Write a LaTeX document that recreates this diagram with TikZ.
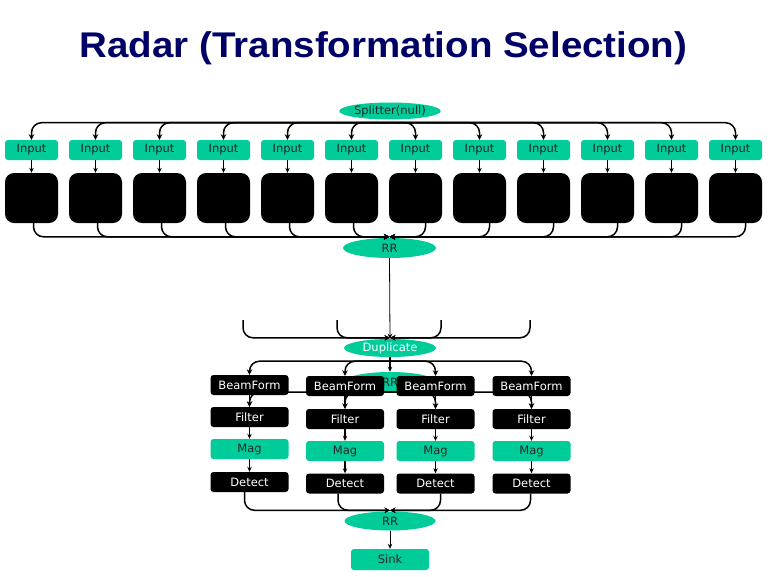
\documentclass[tikz,border=0pt]{standalone}
\usepackage{fontspec}
\setmainfont{DejaVu Sans}
\newfontfamily\titlefont{Liberation Sans}
\usetikzlibrary{arrows.meta,shapes.geometric,calc}
\definecolor{tealfill}{RGB}{0,204,153}
\definecolor{navytitle}{RGB}{0,0,102}
\pgfdeclarelayer{background}
\pgfsetlayers{background,main}
\begin{document}
\begin{tikzpicture}[x=1pt,y=-1pt,
  lbl/.style={font=\fontsize{11.5}{13}\selectfont, inner sep=0pt},
  tbox/.style={lbl, rectangle, rounded corners=3pt, fill=tealfill, minimum width=53pt, minimum height=20pt, text=black!85},
  bbox/.style={lbl, rectangle, rounded corners=3pt, fill=black, minimum width=78pt, minimum height=20pt, text=white},
  mbox/.style={tbox, minimum width=78pt},
  blk/.style={rectangle, rounded corners=9pt, fill=black, minimum width=53pt, minimum height=50pt, inner sep=0pt},
  oval/.style={lbl, ellipse, fill=tealfill, minimum width=92pt, minimum height=19pt, text=black!85},
  arr/.style={-{Stealth[length=5.5pt,width=5.5pt]}, line width=1.5pt, rounded corners=10pt},
  thinarr/.style={-{Stealth[length=5pt,width=4.5pt]}, line width=0.8pt}
]
\useasboundingbox (0,0) rectangle (768,576);

% title
\node[anchor=base, inner sep=0pt, text=navytitle, font=\titlefont\bfseries\fontsize{35}{40}\selectfont] (title) at (383.5,57)
  {\scalebox{1.1}[1.02]{Radar (Transformation Selection)}};

% splitter and inputs
\node[oval, minimum width=90pt, minimum height=17pt] (spl) at (390,111) {Splitter(null)};
\foreach \i in {0,...,11}{
  \pgfmathsetmacro{\xx}{31.5+64*\i}
  \node[tbox] (in\i) at (\xx,150) {Input};
  \node[blk] (bk\i) at (\xx,198) {};
  \draw[thinarr, line width=1.2pt] (in\i.south) -- (bk\i.north);
  \draw[arr] ([yshift=-3pt]spl.south) -| (in\i.north);
}

% first RR
\node[oval, minimum width=93pt, minimum height=20pt] (rr1) at (389.5,248) {RR};
\foreach \i in {0,...,5}{
  \draw[arr] ([xshift=2pt]bk\i.south) |- ([yshift=1pt]rr1.north);
}
\foreach \i in {6,...,11}{
  \draw[arr] ([xshift=10pt]bk\i.south) |- ([yshift=1pt]rr1.north);
}

% duplicate
\node[oval, minimum width=92pt, minimum height=18pt, text=white] (dup) at (390,348) {Duplicate};
\draw[thinarr] (rr1.south) -- (dup.north);
\coordinate (u1) at (243,320);
\coordinate (u2) at (337,320);
\coordinate (u3) at (441,320);
\coordinate (u4) at (530,320);
\foreach \u in {u1,u2,u3,u4}{
  \draw[arr] (\u) |- ([yshift=1pt]dup.north);
}

% columns
\node[bbox] (bf1) at (249.5,385) {BeamForm};
\node[bbox] (fl1) at (249.5,417) {Filter};
\node[mbox] (mg1) at (249.5,449) {Mag};
\node[bbox] (dt1) at (249.5,482) {Detect};
\node[bbox] (bf2) at (345,386) {BeamForm};
\node[bbox] (fl2) at (345,419) {Filter};
\node[mbox] (mg2) at (345,451) {Mag};
\node[bbox] (dt2) at (345,483.5) {Detect};
\node[bbox] (bf3) at (435.5,386) {BeamForm};
\node[bbox] (fl3) at (435.5,419) {Filter};
\node[mbox] (mg3) at (435.5,451) {Mag};
\node[bbox] (dt3) at (435.5,483.5) {Detect};
\node[bbox] (bf4) at (531.5,386) {BeamForm};
\node[bbox] (fl4) at (531.5,419) {Filter};
\node[mbox] (mg4) at (531.5,451) {Mag};
\node[bbox] (dt4) at (531.5,483.5) {Detect};

% hidden RR behind the BeamForm boxes
\begin{pgfonlayer}{background}
  \node[oval, minimum width=92pt, minimum height=20pt] (rr2) at (390,382) {RR};
  \foreach \j in {1,...,4}{
    \draw[arr] (rr2.south) -| (fl\j.north);
  }
\end{pgfonlayer}

\draw[thinarr, line width=1.2pt] (dup.south) -- (rr2.north);
\foreach \j in {1,...,4}{
  \draw[arr] ([yshift=-4pt]dup.south) -| (bf\j.north);
  \draw[thinarr, line width=1.2pt] (bf\j.south) -- (fl\j.north);
  \draw[thinarr, line width=1.2pt] (fl\j.south) -- (mg\j.north);
  \draw[thinarr, line width=1.2pt] (mg\j.south) -- (dt\j.north);
}

% last RR and sink
\node[oval, minimum width=91pt, minimum height=19pt] (rr3) at (390,521) {RR};
\draw[arr] ([xshift=-5pt]dt1.south) |- ([yshift=1pt]rr3.north);
\draw[arr] ([xshift=-7pt]dt2.south) |- ([yshift=1pt]rr3.north);
\draw[arr] ([xshift=5pt]dt3.south) |- ([yshift=1pt]rr3.north);
\draw[arr] ([xshift=-1pt]dt4.south) |- ([yshift=1pt]rr3.north);
\node[tbox, minimum width=78pt, minimum height=21pt] (sink) at (390,559.5) {Sink};
\draw[thinarr] (rr3.south) -- (sink.north);
\end{tikzpicture}
\end{document}
